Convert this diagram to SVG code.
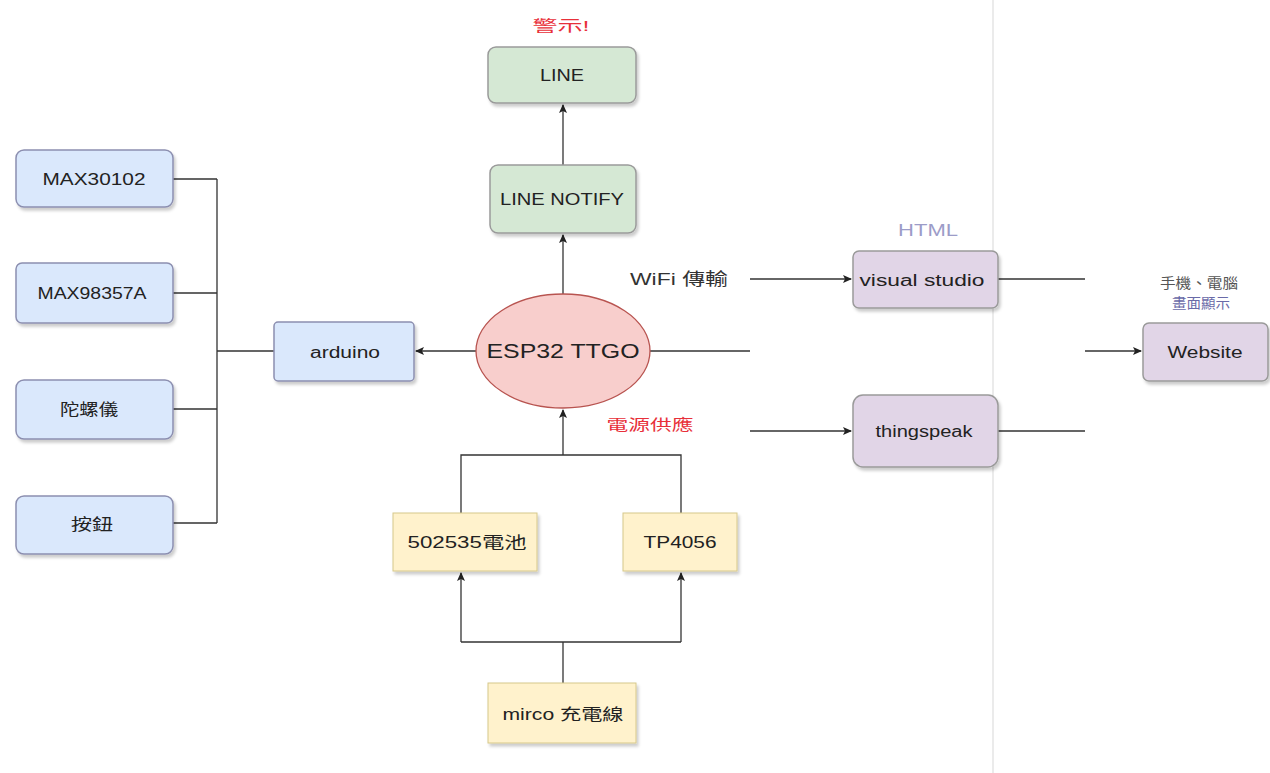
<svg xmlns="http://www.w3.org/2000/svg" width="1270" height="773" viewBox="0 0 1270 773">
<style>
text{font-family:"Liberation Sans","Noto Sans CJK TC",sans-serif;font-size:16px;fill:#222;text-anchor:middle;dominant-baseline:central}
.blue{fill:#dae8fc;stroke:#8c8fb0;stroke-width:1.5}
.green{fill:#d5e8d4;stroke:#9a9a9a;stroke-width:1.5}
.yellow{fill:#fff2cc;stroke:#d6c88a;stroke-width:1}
.purple{fill:#e1d5e7;stroke:#9a9a9a;stroke-width:1.5}
.ln{fill:none;stroke:#333;stroke-width:1.3}
.red{fill:#e8303a;font-size:15px}
</style>
<defs>
<marker id="arr" markerWidth="10" markerHeight="10" refX="8" refY="5" orient="auto" markerUnits="userSpaceOnUse">
<path d="M0,1 L9,5 L0,9 L2,5 Z" fill="#222"/>
</marker>
<filter id="sh" x="-10%" y="-10%" width="130%" height="140%">
<feDropShadow dx="2" dy="3" stdDeviation="1.5" flood-color="#000" flood-opacity="0.2"/>
</filter>
</defs>
<rect width="1270" height="773" fill="#fff"/>
<line x1="993" y1="0" x2="993" y2="773" stroke="#e4e4e4" stroke-width="1.5"/>

<g id="connectors">
<path class="ln" d="M563,165 L563,105" marker-end="url(#arr)"/>
<path class="ln" d="M563,294 L563,235" marker-end="url(#arr)"/>
<path class="ln" d="M476,351 L416,351" marker-end="url(#arr)"/>
<path class="ln" d="M173,179 L217,179 M173,293 L217,293 M173,409 L217,409 M173,523 L217,523 M217,179 L217,523 M217,351 L274,351"/>
<path class="ln" d="M650,351 L750,351"/>
<path class="ln" d="M750,279 L851,279" marker-end="url(#arr)"/>
<path class="ln" d="M750,431 L851,431" marker-end="url(#arr)"/>
<path class="ln" d="M998,279 L1085,279 M998,431 L1085,431"/>
<path class="ln" d="M1085,351 L1141,351" marker-end="url(#arr)"/>
<path class="ln" d="M461,513 L461,455 L681,455 L681,513"/>
<path class="ln" d="M563,455 L563,410" marker-end="url(#arr)"/>
<path class="ln" d="M563,683 L563,642"/>
<path class="ln" d="M461,642 L681,642"/>
<path class="ln" d="M461,642 L461,573" marker-end="url(#arr)"/>
<path class="ln" d="M681,642 L681,573" marker-end="url(#arr)"/>
</g>

<g id="n-line"><rect class="green" x="488" y="47" width="148" height="56" rx="8" filter="url(#sh)"/><text x="562" y="75" textLength="44" lengthAdjust="spacingAndGlyphs">LINE</text></g>
<g id="n-linenotify"><rect class="green" x="490" y="165" width="146" height="68" rx="8" filter="url(#sh)"/><text x="562" y="199" textLength="124" lengthAdjust="spacingAndGlyphs">LINE NOTIFY</text></g>
<g id="n-esp32"><ellipse cx="563" cy="351" rx="87" ry="57" fill="#f8cecc" stroke="#b85450" stroke-width="1.3"/><text x="563" y="351" style="font-size:20px" textLength="153" lengthAdjust="spacingAndGlyphs">ESP32 TTGO</text></g>
<g id="n-arduino"><rect class="blue" x="274" y="322" width="140" height="59" rx="4" filter="url(#sh)"/><text x="345" y="352" textLength="70" lengthAdjust="spacingAndGlyphs">arduino</text></g>
<g id="n-max30102"><rect class="blue" x="16" y="150" width="157" height="57" rx="8" filter="url(#sh)"/><text x="94" y="179" textLength="103" lengthAdjust="spacingAndGlyphs">MAX30102</text></g>
<g id="n-max98357a"><rect class="blue" x="16" y="263" width="157" height="60" rx="6" filter="url(#sh)"/><text x="92" y="293" textLength="109" lengthAdjust="spacingAndGlyphs">MAX98357A</text></g>
<g id="n-gyro"><rect class="blue" x="16" y="380" width="157" height="59" rx="8" filter="url(#sh)"/><text x="89" y="409" textLength="58" lengthAdjust="spacingAndGlyphs">陀螺儀</text></g>
<g id="n-button"><rect class="blue" x="16" y="496" width="157" height="58" rx="8" filter="url(#sh)"/><text x="92" y="524" textLength="42" lengthAdjust="spacingAndGlyphs">按鈕</text></g>
<g id="n-vs"><rect class="purple" x="853" y="251" width="145" height="57" rx="6" filter="url(#sh)"/><text x="922" y="280" textLength="125" lengthAdjust="spacingAndGlyphs">visual studio</text></g>
<g id="n-thingspeak"><rect class="purple" x="853" y="395" width="145" height="72" rx="10" filter="url(#sh)"/><text x="924" y="431" textLength="97" lengthAdjust="spacingAndGlyphs">thingspeak</text></g>
<g id="n-website"><rect class="purple" x="1143" y="323" width="125" height="58" rx="6" filter="url(#sh)"/><text x="1205" y="352" textLength="75" lengthAdjust="spacingAndGlyphs">Website</text></g>
<g id="n-battery"><rect class="yellow" x="393" y="513" width="144" height="58" filter="url(#sh)"/><text x="467" y="542" textLength="119" lengthAdjust="spacingAndGlyphs">502535電池</text></g>
<g id="n-tp4056"><rect class="yellow" x="623" y="513" width="114" height="58" filter="url(#sh)"/><text x="680" y="542" textLength="73" lengthAdjust="spacingAndGlyphs">TP4056</text></g>
<g id="n-usb"><rect class="yellow" x="488" y="683" width="148" height="60" filter="url(#sh)"/><text x="563" y="714" textLength="121" lengthAdjust="spacingAndGlyphs">mirco 充電線</text></g>

<g id="labels">
<text class="red" x="561" y="25" textLength="57" lengthAdjust="spacingAndGlyphs">警示!</text>
<text x="679" y="279" style="font-size:17px;fill:#333" textLength="98" lengthAdjust="spacingAndGlyphs">WiFi 傳輸</text>
<text x="928" y="230" style="fill:#9c9cc8" textLength="60" lengthAdjust="spacingAndGlyphs">HTML</text>
<text x="1199" y="283" style="font-size:14px;fill:#555" textLength="78" lengthAdjust="spacingAndGlyphs">手機、電腦</text>
<text x="1201" y="303" style="font-size:14px;fill:#6a6aa8" textLength="58" lengthAdjust="spacingAndGlyphs">畫面顯示</text>
<text class="red" x="650" y="424" textLength="87" lengthAdjust="spacingAndGlyphs">電源供應</text>
</g>
</svg>
